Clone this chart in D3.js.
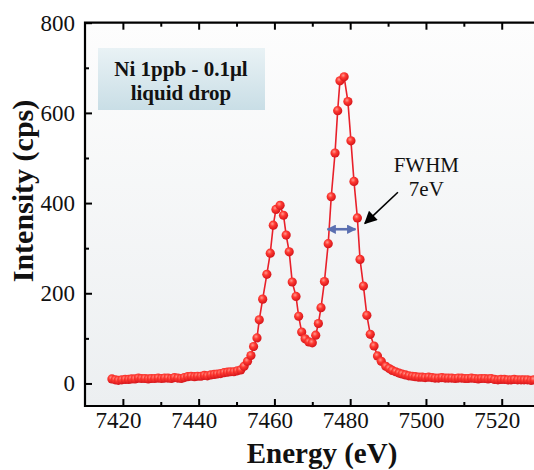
<!DOCTYPE html>
<html>
<head>
<meta charset="utf-8">
<script src="https://cdn.jsdelivr.net/npm/d3@7"></script>
<style>
  html, body { margin: 0; padding: 0; background: #fff; }
  svg { display: block; }
  text { font-family: "Liberation Serif", "Times New Roman", serif; fill: #111; }
</style>
</head>
<body>
<div id="chart"></div>
<script>
// Ni K-beta scan, 1ppb liquid drop - energy (eV) vs intensity (cps)

var energy = [
	7417.1, 7418.0, 7418.8, 7419.7, 7420.6, 7421.5, 7422.3, 7423.2, 7424.1, 7424.9,
	7425.8, 7426.7, 7427.5, 7428.4, 7429.3, 7430.2, 7431.0, 7431.9, 7432.8, 7433.6,
	7434.5, 7435.4, 7436.2, 7437.1, 7438.0, 7438.9, 7439.7, 7440.6, 7441.5, 7442.3,
	7443.2, 7444.1, 7444.9, 7445.8, 7446.7, 7447.6, 7448.4, 7449.3, 7450.2,
	7451.1, 7452.0, 7452.9, 7453.8, 7454.5, 7455.4, 7456.0, 7456.9, 7458.0, 7458.9,
	7459.7, 7460.4, 7461.5, 7462.4, 7463.1, 7463.9, 7464.7, 7465.7, 7466.4, 7467.2,
	7468.1, 7469.1, 7470.0, 7470.9, 7471.6, 7472.3, 7473.2, 7474.2, 7475.0, 7476.0,
	7476.7, 7477.3, 7478.4, 7479.4, 7480.2, 7481.0, 7481.9, 7482.6, 7483.5, 7484.4,
	7485.3, 7486.3, 7487.2, 7488.2, 7489.4,
	7490.3, 7491.1, 7492.0, 7492.9, 7493.7, 7494.6, 7495.5, 7496.4, 7497.2, 7498.1,
	7499.0, 7499.8, 7500.7, 7501.6, 7502.4, 7503.3, 7504.2, 7505.1, 7505.9, 7506.8,
	7507.7, 7508.5, 7509.4, 7510.3, 7511.1, 7512.0, 7512.9, 7513.8, 7514.6, 7515.5,
	7516.4, 7517.2, 7518.1, 7519.0, 7519.8, 7520.7, 7521.6, 7522.5, 7523.3, 7524.2,
	7525.1, 7525.9, 7526.8, 7527.7, 7528.5
];

var intensity = [
	10, 8, 7, 8, 9, 9, 10, 10, 12, 11,
	11, 10, 11, 11, 12, 11, 12, 12, 11, 13,
	12, 11, 13, 15, 16, 15, 16, 16, 18, 17,
	19, 20, 21, 22, 24, 25, 26, 26, 28,
	30, 38, 49, 62, 82, 101, 141, 187, 242, 289,
	351, 386, 395, 373, 329, 292, 225, 193, 149, 114,
	99, 92, 90, 107, 133, 168, 226, 310, 414, 511,
	605, 671, 680, 625, 538, 448, 367, 275, 216, 151,
	109, 83, 61, 49, 38,
	33, 29, 26, 23, 21, 19, 17, 16, 15, 14,
	14, 13, 14, 13, 12, 12, 13, 12, 12, 12,
	11, 12, 12, 11, 11, 12, 11, 10, 11, 11,
	10, 11, 9, 8, 9, 9, 8, 8, 9, 8,
	8, 8, 8, 7, 8
];

var xMajor = [7420, 7440, 7460, 7480, 7500, 7520];
var xMinor = [7430, 7450, 7470, 7490, 7510, 7530];
var yMajor = [0, 200, 400, 600, 800];
var yMinor = [100, 300, 500, 700];

var legendLines = ["Ni 1ppb - 0.1\u03bcl", "liquid drop"];
var fwhmLines = ["FWHM", "7eV"];

// annotation anchors, in data units
var fwhmLevel = 342, fwhmFrom = 7474.0, fwhmTo = 7481.4;
var arrowTail = [7492.6, 424], arrowTip = [7483.9, 355];

function spectrum_chart(div_id) {
	var W = 534, H = 470;
	var left = 85, top = 22.7, bottom = 406, right = 539.6;

	var x = d3.scaleLinear().domain([7410, 7530]).range([left, right]);
	var y = d3.scaleLinear().domain([-50, 800]).range([bottom, top]);

	var data = energy.map(function(e, i) { return { e: e, v: intensity[i] }; });

	var svg = d3.select('#' + div_id).append("svg")
		.attr("width", W)
		.attr("height", H);

	var defs = svg.append("defs");
	var bg = defs.append("linearGradient").attr("id", "bg")
		.attr("x1", 0).attr("y1", 0).attr("x2", 0).attr("y2", 1);
	bg.append("stop").attr("offset", "0%").attr("stop-color", "#fdfdfd");
	bg.append("stop").attr("offset", "100%").attr("stop-color", "#eceff1");

	var lg = defs.append("linearGradient").attr("id", "lg")
		.attr("x1", 0).attr("y1", 0).attr("x2", 0).attr("y2", 1);
	lg.append("stop").attr("offset", "0%").attr("stop-color", "#e9f2f5");
	lg.append("stop").attr("offset", "100%").attr("stop-color", "#c9dee6");

	var ball = defs.append("radialGradient").attr("id", "ball")
		.attr("cx", "40%").attr("cy", "35%").attr("r", "65%");
	ball.append("stop").attr("offset", "0%").attr("stop-color", "#ff9a90");
	ball.append("stop").attr("offset", "40%").attr("stop-color", "#ff3a32");
	ball.append("stop").attr("offset", "100%").attr("stop-color", "#d4141a");

	var blueHead = defs.append("marker").attr("id", "bh")
		.attr("viewBox", "0 0 10 10").attr("refX", 9).attr("refY", 5)
		.attr("markerWidth", 3.6).attr("markerHeight", 3.6)
		.attr("markerUnits", "strokeWidth").attr("orient", "auto-start-reverse");
	blueHead.append("path").attr("d", "M0,0L10,5L0,10z").attr("fill", "#5a6fb0");

	var blackHead = defs.append("marker").attr("id", "kh")
		.attr("viewBox", "0 0 10 10").attr("refX", 9).attr("refY", 5)
		.attr("markerWidth", 9).attr("markerHeight", 8)
		.attr("markerUnits", "strokeWidth").attr("orient", "auto");
	blackHead.append("path").attr("d", "M0,0L10,5L0,10z").attr("fill", "#000");

	// plot background
	svg.append("rect")
		.attr("x", left).attr("y", top)
		.attr("width", right - left).attr("height", bottom - top)
		.attr("fill", "url(#bg)");

	// ticks (inward)
	svg.append("g")
		.attr("transform", "translate(0," + bottom + ")")
		.call(d3.axisBottom(x).tickValues(xMajor).tickSizeInner(-7).tickSizeOuter(0).tickPadding(6)
			.tickFormat(d3.format("d")))
		.call(function(g) { g.select(".domain").remove(); })
		.call(function(g) {
			g.selectAll("line").attr("stroke", "#000").attr("stroke-width", 2);
			g.selectAll("text").attr("font-size", 23).attr("dx", -5)
				.style("font-family", '"Liberation Serif", serif').attr("fill", "#111");
		});
	svg.append("g")
		.attr("transform", "translate(0," + bottom + ")")
		.call(d3.axisBottom(x).tickValues(xMinor).tickSizeInner(-4).tickSizeOuter(0).tickFormat(""))
		.call(function(g) { g.select(".domain").remove(); g.selectAll("line").attr("stroke-width", 2); });
	svg.append("g")
		.attr("transform", "translate(0," + top + ")")
		.call(d3.axisTop(x).tickValues(xMajor).tickSizeInner(-7).tickSizeOuter(0).tickFormat(""))
		.call(function(g) { g.select(".domain").remove(); g.selectAll("line").attr("stroke-width", 2); });
	svg.append("g")
		.attr("transform", "translate(0," + top + ")")
		.call(d3.axisTop(x).tickValues(xMinor).tickSizeInner(-4).tickSizeOuter(0).tickFormat(""))
		.call(function(g) { g.select(".domain").remove(); g.selectAll("line").attr("stroke-width", 2); });

	svg.append("g")
		.attr("transform", "translate(" + left + ",0)")
		.call(d3.axisLeft(y).tickValues(yMajor).tickSizeInner(-7).tickSizeOuter(0).tickPadding(10)
			.tickFormat(d3.format("d")))
		.call(function(g) { g.select(".domain").remove(); })
		.call(function(g) {
			g.selectAll("line").attr("stroke", "#000").attr("stroke-width", 2);
			g.selectAll("text").attr("font-size", 23)
				.style("font-family", '"Liberation Serif", serif').attr("fill", "#111");
		});
	svg.append("g")
		.attr("transform", "translate(" + left + ",0)")
		.call(d3.axisLeft(y).tickValues(yMinor).tickSizeInner(-4).tickSizeOuter(0).tickFormat(""))
		.call(function(g) { g.select(".domain").remove(); g.selectAll("line").attr("stroke-width", 2); });

	// frame
	svg.append("path")
		.attr("d", "M" + (right + 5) + "," + top + "H" + left + "V" + bottom + "H" + (right + 5))
		.attr("fill", "none").attr("stroke", "#000").attr("stroke-width", 2.2);

	// legend box
	var lb = svg.append("g").attr("transform", "translate(98,48)");
	lb.append("rect").attr("width", 167).attr("height", 62).attr("fill", "url(#lg)");
	lb.selectAll("text").data(legendLines).enter().append("text")
		.attr("x", 83).attr("y", function(d, i) { return 28 + i * 24; })
		.attr("text-anchor", "middle")
		.attr("font-size", 21).attr("font-weight", "bold")
		.text(function(d) { return d; });

	// series line + markers
	var line = d3.line()
		.x(function(d) { return x(d.e); })
		.y(function(d) { return y(d.v); });
	svg.append("path")
		.datum(data)
		.attr("d", line)
		.attr("fill", "none")
		.attr("stroke", "#e8202a")
		.attr("stroke-width", 1.6);
	svg.selectAll(".pt")
		.data(data)
		.enter().append("circle")
		  .attr("class", "pt")
		  .attr("cx", function(d) { return x(d.e); })
		  .attr("cy", function(d) { return y(d.v); })
		  .attr("r", 4.6)
		  .attr("fill", "url(#ball)");

	// FWHM annotation
	svg.append("line")
		.attr("x1", x(fwhmFrom)).attr("x2", x(fwhmTo))
		.attr("y1", y(fwhmLevel)).attr("y2", y(fwhmLevel))
		.attr("stroke", "#5a6fb0").attr("stroke-width", 2.6)
		.attr("marker-start", "url(#bh)").attr("marker-end", "url(#bh)");
	svg.append("line")
		.attr("x1", x(arrowTail[0])).attr("y1", y(arrowTail[1]))
		.attr("x2", x(arrowTip[0])).attr("y2", y(arrowTip[1]))
		.attr("stroke", "#000").attr("stroke-width", 1.6)
		.attr("marker-end", "url(#kh)");
	svg.selectAll(".fw").data(fwhmLines).enter().append("text")
		.attr("class", "fw")
		.attr("x", x(7500.1)).attr("y", function(d, i) { return 172 + i * 24; })
		.attr("text-anchor", "middle").attr("font-size", 21)
		.text(function(d) { return d; });

	// axis titles
	svg.append("text")
		.attr("x", 322).attr("y", 463)
		.attr("text-anchor", "middle")
		.attr("font-size", 29).attr("font-weight", "bold")
		.text("Energy (eV)");
	svg.append("text")
		.attr("transform", "translate(33,191) rotate(-90)")
		.attr("text-anchor", "middle")
		.attr("font-size", 30).attr("font-weight", "bold")
		.text("Intensity (cps)");
} // spectrum_chart

spectrum_chart("chart");
</script>
</body>
</html>
